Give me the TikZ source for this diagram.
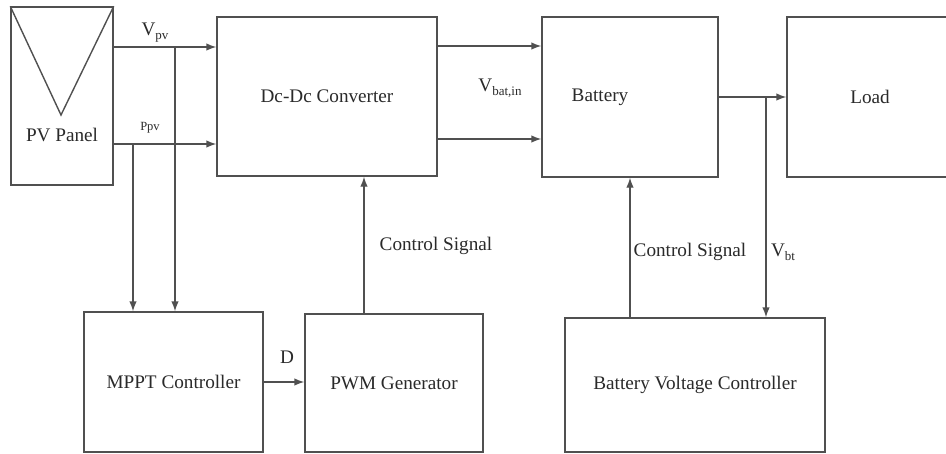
\documentclass[tikz,border=0pt]{standalone}
\usepackage{fontspec}
\setmainfont{Liberation Serif}
\usetikzlibrary{arrows.meta,calc}
\definecolor{linec}{HTML}{505050}
\definecolor{textc}{HTML}{2A2A2A}
\newcommand{\mysub}[1]{{\fontsize{13}{13}\selectfont\raisebox{-4pt}{#1}}}
\begin{document}
\begin{tikzpicture}[x=1pt,y=-1pt,
  box/.style={draw=linec, line width=1.4pt, inner sep=0pt, text=textc, font=\fontsize{19.2}{22}\selectfont},
  lbl/.style={inner sep=0pt, text=textc, font=\fontsize{19.2}{22}\selectfont},
  small/.style={inner sep=0pt, text=textc, font=\fontsize{12.5}{14}\selectfont},
  arr/.style={draw=linec, line width=1.4pt, -{Latex[length=10pt,width=7.5pt]}},
  wire/.style={draw=linec, line width=1.4pt}]
\useasboundingbox (0,0) rectangle (946,453);
\clip (0,0) rectangle (946,453);
\fill[white] (0,0) rectangle (946,453);
% boxes
\node[box, minimum width=102pt, minimum height=178pt] (pv) at (62,96) {};
\node[box, minimum width=220pt, minimum height=159pt] (dc) at (327,96.5) {Dc-Dc Converter};
\node[box, minimum width=176pt, minimum height=160pt] (bat) at (630,97) {};
\node[box, minimum width=166pt, minimum height=160pt] (load) at (870,97) {Load};
\node[box, minimum width=179pt, minimum height=140pt] (mppt) at (173.5,382) {MPPT Controller};
\node[box, minimum width=178pt, minimum height=138pt] (pwm) at (394,383) {PWM Generator};
\node[box, minimum width=260pt, minimum height=134pt] (bvc) at (695,385) {Battery Voltage Controller};
% PV triangle
\coordinate (tri) at (61,115);
\draw[wire, line join=miter] (pv.north west) -- (tri) -- (pv.north east);
% labels
\node[lbl] (pvlbl) at (62,135) {PV Panel};
\node[lbl] (batlbl) at (600,97) {Battery};
\node[lbl] (vpv) at (155,33) {V\mysub{pv}};
\node[small] (ppv) at (150,128) {Ppv};
\node[lbl] (vbat) at (500,88) {V\mysub{bat,in}};
\node[lbl] (vbt) at (783,252) {V\mysub{bt}};
\node[lbl] (cs1) at (436,246) {Control Signal};
\node[lbl] (cs2) at (690,252) {Control Signal};
\node[lbl] (dlbl) at (287,357) {D};
% connectors
\coordinate (vpvsplit) at (175,47);
\coordinate (ppvsplit) at (133,144);
\coordinate (b1) at (490,46);
\coordinate (b2) at (490,139);
\coordinate (lsplit) at (766,97);
\coordinate (dlev) at (285,382);
\coordinate (cs1x) at (364,250);
\coordinate (cs2x) at (630,250);
\draw[arr] (pv.east |- vpvsplit) -- (dc.west |- vpvsplit);
\draw[arr] (pv.east |- ppvsplit) -- (dc.west |- ppvsplit);
\draw[arr] (vpvsplit) -- (mppt.north -| vpvsplit);
\draw[arr] (ppvsplit) -- (mppt.north -| ppvsplit);
\draw[arr] (dc.east |- b1) -- (bat.west |- b1);
\draw[arr] (dc.east |- b2) -- (bat.west |- b2);
\draw[arr] (bat.east |- lsplit) -- (load.west |- lsplit);
\draw[arr] (lsplit) -- (bvc.north -| lsplit);
\draw[arr] (mppt.east |- dlev) -- (pwm.west |- dlev);
\draw[arr] (pwm.north -| cs1x) -- (dc.south -| cs1x);
\draw[arr] (bvc.north -| cs2x) -- (bat.south -| cs2x);
\end{tikzpicture}
\end{document}
